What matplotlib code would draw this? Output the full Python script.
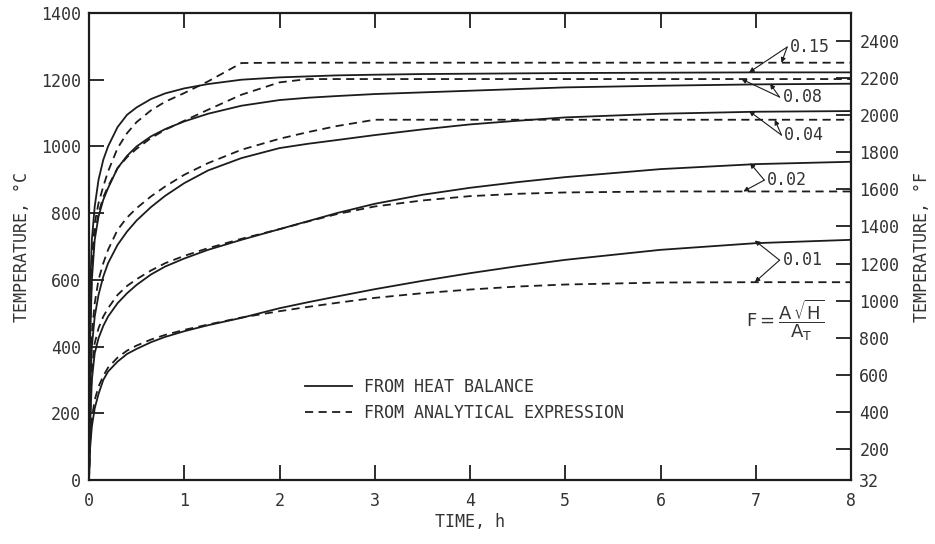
import matplotlib
matplotlib.use('Agg')
import matplotlib.pyplot as plt
from matplotlib.lines import Line2D

# time grid, h
hours = [0, 0.01, 0.03, 0.06, 0.1, 0.15, 0.2, 0.3, 0.4, 0.5, 0.65, 0.8, 1.0,
         1.25, 1.6, 2.0, 2.3, 2.6, 3.0, 3.5, 4.0, 4.5, 5.0, 6.0, 7.0, 8.0]

# temperature, deg C -- heat balance (solid) and analytical expression (dashed)
heat_001 = [0, 90, 160, 215, 258, 300, 325, 355, 378, 393, 413, 429, 446,
            464, 486, 515, 533, 550, 572, 597, 620, 641, 660, 690, 710, 720]
anal_001 = [0, 110, 185, 240, 280, 312, 337, 367, 388, 403, 421, 435, 450,
            466, 487, 506, 519, 531, 546, 560, 571, 580, 586, 592, 593, 593]
heat_002 = [0, 150, 300, 380, 425, 462, 490, 530, 560, 585, 616, 640, 664,
            690, 720, 752, 776, 800, 828, 855, 876, 893, 908, 932, 947, 954]
anal_002 = [0, 170, 330, 410, 455, 490, 515, 555, 582, 602, 628, 650, 672,
            695, 723, 752, 775, 797, 820, 838, 851, 858, 862, 865, 865, 865]
heat_004 = [0, 250, 400, 490, 555, 610, 650, 705, 745, 778, 818, 852, 890,
            928, 965, 995, 1008, 1019, 1034, 1051, 1066, 1077, 1087, 1098, 1104, 1106]
anal_004 = [0, 280, 440, 530, 600, 650, 690, 750, 787, 815, 850, 880, 915,
            950, 990, 1023, 1043, 1061, 1080, 1080, 1080, 1080, 1080, 1080, 1080, 1080]
heat_008 = [0, 400, 600, 720, 790, 840, 875, 935, 972, 1000, 1030, 1052, 1075,
            1098, 1122, 1139, 1146, 1151, 1157, 1162, 1167, 1172, 1177, 1182, 1186, 1188]
anal_008 = [0, 430, 620, 735, 800, 848, 880, 935, 968, 993, 1025, 1050, 1077,
            1110, 1155, 1192, 1202, 1202, 1202, 1202, 1202, 1202, 1202, 1202, 1202, 1202]
heat_015 = [0, 550, 720, 820, 900, 960, 1000, 1058, 1095, 1117, 1142, 1159, 1174,
            1187, 1200, 1207, 1210, 1213, 1215, 1217, 1218, 1219, 1220, 1221, 1222, 1222]
anal_015 = [0, 480, 660, 770, 830, 880, 925, 995, 1040, 1073, 1108, 1134, 1160,
            1195, 1250, 1251, 1251, 1251, 1251, 1251, 1251, 1251, 1251, 1251, 1251, 1251]

# curve labels: text, label/vertex point, solid-curve tip, dashed-curve tip
f_labels = ['0.15', '0.08', '0.04', '0.02', '0.01']
f_vertex = [(7.33, 1298), (7.25, 1148), (7.27, 1034), (7.09, 899), (7.25, 659)]
f_solid_tip = [(6.93, 1222), (7.15, 1188), (6.93, 1106), (6.94, 950), (6.99, 718)]
f_dash_tip = [(7.27, 1251), (6.85, 1202), (7.2, 1080), (6.87, 865), (6.99, 593)]

c_ticks = [0, 200, 400, 600, 800, 1000, 1200, 1400]
f_ticks = [32, 200, 400, 600, 800, 1000, 1200, 1400, 1600, 1800, 2000, 2200, 2400]

mono = 'DejaVu Sans Mono'
ink = '#1c1c1c'
txt = '#333333'
plt.rcParams['font.family'] = mono
plt.rcParams['mathtext.fontset'] = 'dejavusans'

fig = plt.figure(figsize=(9.35, 5.44), dpi=100)
ax = fig.add_axes([89/935, 1 - 480/544, 762/935, 467/544])

solids = [heat_001, heat_002, heat_004, heat_008, heat_015]
dashes = [anal_001, anal_002, anal_004, anal_008, anal_015]
for s in solids:
    ax.plot(hours, s, color=ink, lw=1.3, solid_capstyle='butt')
for d in dashes:
    ax.plot(hours, d, color=ink, lw=1.3, dashes=(4.5, 3))

ax.set_xlim(0, 8)
ax.set_ylim(0, 1400)
ax.set_xticks(range(9))
ax.set_yticks(c_ticks)
ax.tick_params(direction='in', length=11, width=1.3, labelsize=12,
               color=ink, labelcolor=txt, top=True)
ax.tick_params(axis='x', pad=9)
ax.tick_params(axis='y', pad=6)
for sp in ax.spines.values():
    sp.set_linewidth(1.6)
    sp.set_color(ink)

ax.set_xlabel('TIME, h', fontsize=12, color=txt, labelpad=2)
ax.set_ylabel('TEMPERATURE, °C', fontsize=12, color=txt, labelpad=7)

# Fahrenheit scale on the right
ax2 = ax.twinx()
ax2.set_ylim(32, 1400*1.8 + 32)
ax2.set_yticks(f_ticks)
ax2.tick_params(direction='in', length=11, width=1.3, labelsize=12,
                color=ink, labelcolor=txt, pad=6)
ax2.set_ylabel('TEMPERATURE, °F', fontsize=12, color=txt, labelpad=10)
for sp in ax2.spines.values():
    sp.set_visible(False)

# F labels with pointers to each pair of curves
for lab, v, ts, td in zip(f_labels, f_vertex, f_solid_tip, f_dash_tip):
    for tip in (ts, td):
        ax.annotate('', xy=tip, xytext=v,
                    arrowprops=dict(arrowstyle='-|>', lw=0.8, color=ink,
                                    mutation_scale=7, shrinkA=0, shrinkB=0))
    ax.text(v[0] + 0.03, v[1], lab, fontsize=12, color=txt,
            ha='left', va='center')

ax.text(6.9, 480, r'$\mathrm{F} = \dfrac{\mathrm{A}\,\sqrt{\mathrm{H}}}{\mathrm{A_T}}$',
        fontsize=13, color=txt, ha='left', va='center')

handles = [Line2D([], [], color=ink, lw=1.3),
           Line2D([], [], color=ink, lw=1.3, dashes=(4.5, 3))]
ax.legend(handles, ['FROM HEAT BALANCE', 'FROM ANALYTICAL EXPRESSION'],
          loc='center left', bbox_to_anchor=(0.273, 0.171), frameon=False,
          fontsize=12, handlelength=2.8, handletextpad=0.7, borderpad=0,
          labelspacing=0.5, labelcolor=txt)

fig.savefig('out.png', dpi=100)
